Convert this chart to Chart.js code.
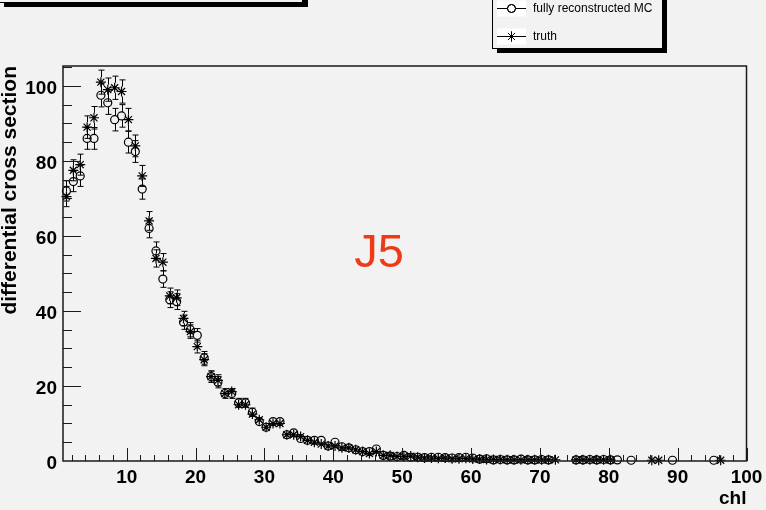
<!DOCTYPE html>
<html>
<head>
<meta charset="utf-8">
<script src="https://cdn.jsdelivr.net/npm/chart.js@4.4.1/dist/chart.umd.min.js"></script>
<style>
  html, body { margin: 0; padding: 0; background: #f2f2f2; }
  #wrap { width: 766px; height: 510px; }
</style>
</head>
<body>
<div id="wrap"><canvas id="chl-xsec" width="766" height="510"></canvas></div>
<script>
// chl bin centres (bins of width 1)
const binCenters = [
  1.25, 2.25, 3.25, 4.25, 5.25, 6.25, 7.25, 8.25, 9.25, 10.25,
  11.25, 12.25, 13.25, 14.25, 15.25, 16.25, 17.25, 18.25, 19.25, 20.25,
  21.25, 22.25, 23.25, 24.25, 25.25, 26.25, 27.25, 28.25, 29.25, 30.25,
  31.25, 32.25, 33.25, 34.25, 35.25, 36.25, 37.25, 38.25, 39.25, 40.25,
  41.25, 42.25, 43.25, 44.25, 45.25, 46.25, 47.25, 48.25, 49.25, 50.25,
  51.25, 52.25, 53.25, 54.25, 55.25, 56.25, 57.25, 58.25, 59.25, 60.25,
  61.25, 62.25, 63.25, 64.25, 65.25, 66.25, 67.25, 68.25, 69.25, 70.25,
  71.25, 72.25, 73.25, 74.25, 75.25, 76.25, 77.25, 78.25, 79.25, 80.25,
  81.25, 82.25, 83.25, 84.25, 85.25, 86.25, 87.25, 88.25, 89.25, 90.25,
  91.25, 92.25, 93.25, 94.25, 95.25, 96.25, 97.25
];

// fully reconstructed MC (null = empty bin)
const recoMC = [
  72, 74.5, 76, 86, 86, 97.5, 95.5, 91, 92, 85,
  82.5, 72.5, 62, 56, 48.5, 43, 42.5, 37, 35, 33.5,
  27.5, 22.5, 21, 18, 18, 15.5, 15.5, 13, 10.5, 9,
  10.5, 10.5, 7, 7.5, 6, 5.5, 5.5, 5.5, 4, 5,
  3.8, 3.5, 3, 2.5, 2.5, 3.2, 1.5, 1.3, 1.2, 1.5,
  1, 1, 0.9, 1, 1, 0.9, 0.8, 0.9, 1, 0.8,
  0.5, 0.6, 0.3, 0.4, 0.3, 0.3, 0.5, 0.3, 0.3, 0.4,
  0.3, null, null, null, 0.3, 0.3, 0.4, 0.3, 0.4, 0.3,
  0.3, null, 0.2, null, null, null, null, null, 0.2, null,
  null, null, null, null, 0.2, null, null
];
const recoErr = [
  2.7, 2.7, 2.8, 2.9, 2.9, 3.1, 3.1, 3.0, 3.0, 2.9,
  2.9, 2.7, 2.5, 2.4, 2.2, 2.1, 2.1, 1.9, 1.9, 1.8,
  1.7, 1.5, 1.5, 1.3, 1.3, 1.2, 1.2, 1.1, 1.0, 0.9,
  1.0, 1.0, 0.8, 0.8, 0.8, 0.7, 0.7, 0.7, 0.6, 0.7,
  0.6, 0.6, 0.5, 0.5, 0.5, 0.6, 0.4, 0.4, 0.3, 0.4,
  0.3, 0.3, 0.3, 0.3, 0.3, 0.3, 0.3, 0.3, 0.3, 0.3,
  0.2, 0.2, 0.2, 0.2, 0.2, 0.2, 0.2, 0.2, 0.2, 0.2,
  0.2, 0, 0, 0, 0.2, 0.2, 0.2, 0.2, 0.2, 0.2,
  0.2, 0, 0.2, 0, 0, 0, 0, 0, 0.2, 0,
  0, 0, 0, 0, 0.2, 0, 0
];

// generator-level truth
const truth = [
  70.5, 77.5, 79, 89, 91.5, 101, 99, 99.5, 98.5, 91,
  84, 76, 64, 54, 53, 44, 43.5, 38, 34.5, 30.5,
  27, 22.5, 21.5, 18, 18.5, 15, 15, 12.5, 11, 9,
  10, 10, 7, 7, 6.5, 5.5, 5, 4.5, 4, 4,
  3.5, 3.5, 3, 2.5, 2, 2.5, 1.5, 1.5, 1.2, 1.2,
  1.3, 1, 0.8, 0.8, 0.7, 0.8, 0.6, 0.6, 0.7, 0.5,
  0.5, 0.4, 0.4, 0.4, 0.3, 0.3, 0.3, 0.3, 0.3, 0.3,
  0.3, 0.3, null, null, 0.3, 0.3, 0.3, 0.3, 0.3, 0.3,
  null, null, null, null, null, 0.2, 0.2, null, null, null,
  null, null, null, null, null, 0.2, null
];
const truthErr = [
  2.7, 2.8, 2.8, 3.0, 3.0, 3.2, 3.1, 3.1, 3.1, 3.0,
  2.9, 2.8, 2.5, 2.3, 2.3, 2.1, 2.1, 1.9, 1.8, 1.7,
  1.6, 1.5, 1.5, 1.3, 1.3, 1.2, 1.2, 1.1, 1.0, 0.9,
  1.0, 1.0, 0.8, 0.8, 0.8, 0.7, 0.7, 0.6, 0.6, 0.6,
  0.6, 0.6, 0.5, 0.5, 0.4, 0.5, 0.4, 0.4, 0.3, 0.3,
  0.3, 0.3, 0.3, 0.3, 0.3, 0.3, 0.2, 0.2, 0.2, 0.2,
  0.2, 0.2, 0.2, 0.2, 0.2, 0.2, 0.2, 0.2, 0.2, 0.2,
  0.2, 0.2, 0, 0, 0.2, 0.2, 0.2, 0.2, 0.2, 0.2,
  0, 0, 0, 0, 0, 0.2, 0.2, 0, 0, 0,
  0, 0, 0, 0, 0, 0.2, 0
];

const xTicks = [10, 20, 30, 40, 50, 60, 70, 80, 90, 100];
const yTicks = [0, 20, 40, 60, 80, 100];

const FONT = "'Liberation Sans', Helvetica, Arial, sans-serif";

function toPoints(values, errors) {
  const pts = [];
  values.forEach((v, i) => {
    if (v !== null) pts.push({ x: binCenters[i], y: v, err: errors[i] });
  });
  return pts;
}

// vertical error bars with end caps, leaving a gap round the marker
const errorBars = {
  id: 'errorBars',
  beforeDatasetsDraw(chart) {
    const { ctx, scales: { x, y } } = chart;
    ctx.save();
    ctx.strokeStyle = '#000';
    ctx.lineWidth = 1;
    chart.data.datasets.forEach((ds) => {
      const gap = ds.pointRadius;
      ds.data.forEach((p) => {
        if (!p.err) return;
        const px = Math.round(x.getPixelForValue(p.x)) + 0.5;
        const py = y.getPixelForValue(p.y);
        const top = y.getPixelForValue(p.y + p.err);
        const bot = y.getPixelForValue(p.y - p.err);
        ctx.beginPath();
        if (py - gap > top) {
          ctx.moveTo(px, py - gap); ctx.lineTo(px, top);
          ctx.moveTo(px - 3, top); ctx.lineTo(px + 3, top);
        }
        if (bot > py + gap) {
          ctx.moveTo(px, py + gap); ctx.lineTo(px, bot);
          ctx.moveTo(px - 3, bot); ctx.lineTo(px + 3, bot);
        }
        ctx.stroke();
      });
    });
    ctx.restore();
  }
};

// frame, inward ticks, legend box, title box and the J5 label
const decorations = {
  id: 'decorations',
  afterDraw(chart) {
    const { ctx, chartArea: a, scales: { x, y } } = chart;
    ctx.save();

    // frame
    ctx.strokeStyle = '#1a1a1a';
    ctx.lineWidth = 1.5;
    ctx.strokeRect(a.left, a.top, a.right - a.left, a.bottom - a.top);

    // x ticks (major every 10, minor every 2)
    ctx.lineWidth = 1;
    ctx.beginPath();
    for (let v = 2; v <= 100; v += 2) {
      const px = Math.round(x.getPixelForValue(v)) + 0.5;
      const len = xTicks.includes(v) ? 13 : 6;
      ctx.moveTo(px, a.bottom);
      ctx.lineTo(px, a.bottom - len);
    }
    // y ticks (major every 20, minor every 5)
    for (let v = 5; v <= 105; v += 5) {
      const py = Math.round(y.getPixelForValue(v)) + 0.5;
      const len = yTicks.includes(v) ? 18 : 9;
      ctx.moveTo(a.left, py);
      ctx.lineTo(a.left + len, py);
    }
    ctx.stroke();

    // cut-off title box, top left
    ctx.fillStyle = '#000';
    ctx.fillRect(4, 2, 304, 5);
    ctx.fillRect(303, -2, 5, 9);
    ctx.fillStyle = '#f2f2f2';
    ctx.fillRect(-2, -10, 305, 12);
    ctx.strokeStyle = '#000';
    ctx.lineWidth = 1;
    ctx.strokeRect(-2.5, -10.5, 305, 13);

    // legend box
    const lx = 492, ly = -10, lw = 170, lh = 58;
    ctx.fillStyle = '#000';
    ctx.fillRect(lx + 5, ly + 5, lw, lh);
    ctx.fillStyle = '#f2f2f2';
    ctx.fillRect(lx, ly, lw, lh);
    ctx.strokeStyle = '#000';
    ctx.strokeRect(lx + 0.5, ly + 0.5, lw, lh);

    const entries = chart.data.datasets.map((ds) => ({ label: ds.label, style: ds.pointStyle, r: ds.pointRadius }));
    const rows = [8.5, 36.5];
    entries.forEach((e, i) => {
      const cy = rows[i];
      ctx.fillStyle = '#ffffff';
      ctx.fillRect(497, cy - 8, 29, 16);
      ctx.strokeStyle = '#000';
      ctx.lineWidth = 1;
      ctx.beginPath();
      ctx.moveTo(497, cy); ctx.lineTo(507, cy);
      ctx.moveTo(516, cy); ctx.lineTo(526, cy);
      ctx.stroke();
      Chart.helpers.drawPoint(ctx, { pointStyle: e.style, radius: e.r, borderWidth: 1.2, rotation: 0 }, 511.5, cy);
      ctx.stroke();
      ctx.fillStyle = '#000';
      ctx.font = '12px ' + FONT;
      ctx.textBaseline = 'middle';
      ctx.textAlign = 'left';
      ctx.fillText(e.label, 533, cy);
    });

    // J5
    ctx.fillStyle = '#ee3a16';
    ctx.font = '47px ' + FONT;
    ctx.textAlign = 'center';
    ctx.textBaseline = 'alphabetic';
    ctx.fillText('J5', 379, 267);

    ctx.restore();
  }
};

const tickFont = { family: FONT, size: 19, weight: 'bold' };

new Chart(document.getElementById('chl-xsec'), {
  type: 'scatter',
  data: {
    datasets: [
      {
        label: 'fully reconstructed MC',
        data: toPoints(recoMC, recoErr),
        pointStyle: 'circle',
        pointRadius: 4,
        borderColor: '#000',
        backgroundColor: 'rgba(0,0,0,0)',
        borderWidth: 1.2,
        clip: false
      },
      {
        label: 'truth',
        data: toPoints(truth, truthErr),
        pointStyle: 'star',
        pointRadius: 5,
        borderColor: '#000',
        backgroundColor: 'rgba(0,0,0,0)',
        borderWidth: 1.2,
        clip: false
      }
    ]
  },
  options: {
    responsive: false,
    animation: false,
    devicePixelRatio: 1,
    layout: { padding: { top: 66, right: 19.5, left: 0, bottom: 0 } },
    plugins: {
      legend: { display: false },
      tooltip: { enabled: false }
    },
    scales: {
      x: {
        type: 'linear',
        min: 0.75,
        max: 100,
        afterBuildTicks: (s) => { s.ticks = xTicks.map((v) => ({ value: v })); },
        afterFit: (s) => { s.height = 49; s.paddingLeft = 0; s.paddingRight = 0; },
        grid: { display: false, drawTicks: false },
        border: { display: false },
        ticks: { font: tickFont, color: '#000', padding: 5, maxRotation: 0, autoSkip: false },
        title: {
          display: true, text: 'chl', align: 'end', color: '#000',
          font: { family: FONT, size: 19, weight: 'bold' },
          padding: { top: 0, bottom: 0 }
        }
      },
      y: {
        type: 'linear',
        min: 0,
        max: 105.3,
        afterBuildTicks: (s) => { s.ticks = yTicks.map((v) => ({ value: v })); },
        afterFit: (s) => { s.width = 63; s.paddingTop = 0; s.paddingBottom = 0; },
        grid: { display: false, drawTicks: false },
        border: { display: false },
        ticks: { font: tickFont, color: '#000', padding: 6, labelOffset: 3 },
        title: {
          display: true, text: 'differential cross section', align: 'end', color: '#000',
          font: { family: FONT, size: 21, weight: 'bold', lineHeight: 1 },
          padding: { top: 0, bottom: 0 }
        }
      }
    }
  },
  plugins: [errorBars, decorations]
});
</script>
</body>
</html>
